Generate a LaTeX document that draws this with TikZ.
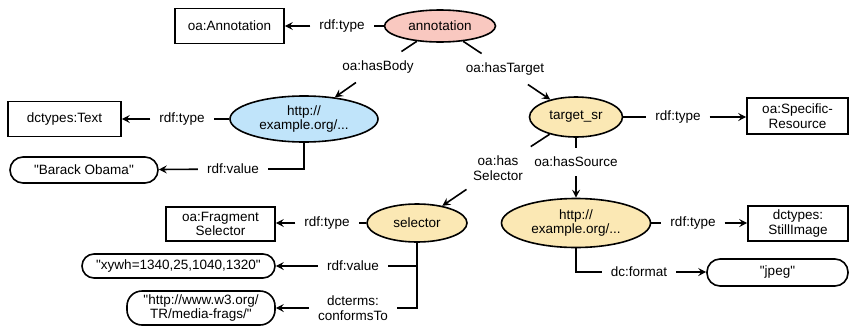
\documentclass[tikz,border=0pt]{standalone}
\usepackage{fontspec}
\setmainfont{Liberation Sans}[Ligatures=TeXOff]
\usetikzlibrary{shapes.geometric,arrows.meta}
\definecolor{annfill}{RGB}{249,200,192}
\definecolor{bodyfill}{RGB}{192,228,250}
\definecolor{tgtfill}{RGB}{251,232,180}
\begin{document}
\begin{tikzpicture}[x=1pt,y=-1pt,
  every node/.style={font=\fontsize{13.5}{14.5}\selectfont, align=center},
  cls/.style={draw, line width=1.6pt, rectangle, inner sep=0pt},
  lit/.style={draw, line width=1.6pt, rectangle, inner sep=0pt, rounded corners=12pt},
  res/.style={draw, line width=1.6pt, ellipse, inner sep=0pt},
  prop/.style={inner xsep=9pt, inner ysep=9pt},
  conn/.style={line width=1.6pt},
  arr/.style={conn, -{Stealth[length=8pt,width=8pt,inset=3pt]}}
]
\useasboundingbox (0,0) rectangle (851,327);

% resources
\node[res, fill=annfill, minimum width=111pt, minimum height=32pt] (ann) at (440,26) {annotation};
\node[res, fill=bodyfill, minimum width=148pt, minimum height=46pt] (body) at (304,119) {http://\\example.org/...};
\node[res, fill=tgtfill, minimum width=93pt, minimum height=40pt] (tsr) at (576,117) {target\_sr};
\node[res, fill=tgtfill, minimum width=100pt, minimum height=38pt] (sel) at (417,223) {selector};
\node[res, fill=tgtfill, minimum width=149pt, minimum height=49pt] (img) at (576,223) {http://\\example.org/...};

% classes
\node[cls, minimum width=109pt, minimum height=35pt] (oaAnn) at (229.5,26) {oa:Annotation};
\node[cls, minimum width=113pt, minimum height=35pt] (dctText) at (64.5,119) {dctypes:Text};
\node[cls, minimum width=101pt, minimum height=36pt] (specRes) at (797.5,116) {oa:Specific-\\Resource};
\node[cls, minimum width=109pt, minimum height=34pt] (fragSel) at (220.5,224) {oa:Fragment\\Selector};
\node[cls, minimum width=100pt, minimum height=35pt] (still) at (798,223.5) {dctypes:\\StillImage};

% literals
\node[lit, rounded corners=13pt, minimum width=148pt, minimum height=26pt] (obama) at (84,170) {"Barack Obama"};
\node[lit, minimum width=193pt, minimum height=24pt] (xywh) at (178.5,266) {"xywh=1340,25,1040,1320"};
\node[lit, rounded corners=15pt, minimum width=148pt, minimum height=34pt] (w3) at (201,308) {"http://www.w3.org/\\TR/media-frags/"};
\node[lit, rounded corners=13pt, minimum width=141pt, minimum height=27pt] (jpeg) at (777.5,272.5) {"jpeg"};

% property labels
\node[prop] (pAnnType) at (342,26) {rdf:type};
\node[prop] (pBody) at (378,67) {oa:hasBody};
\node[prop] (pTarget) at (505,69) {oa:hasTarget};
\node[prop] (pBodyType) at (182,119) {rdf:type};
\node[prop] (pBodyVal) at (233,169) {rdf:value};
\node[prop] (pTsrType) at (678,117) {rdf:type};
\node[prop] (pSel) at (498,168) {oa:has\\Selector};
\node[prop] (pSrc) at (576,162) {oa:hasSource};
\node[prop] (pSelType) at (327,223) {rdf:type};
\node[prop] (pSelVal) at (353,266) {rdf:value};
\node[prop] (pConf) at (353,308) {dcterms:\\conformsTo};
\node[prop] (pImgType) at (693,223) {rdf:type};
\node[prop] (pFmt) at (639,272) {dc:format};

% connectors
\draw[conn] (ann) -- (pAnnType);   \draw[arr] (pAnnType) -- (oaAnn);
\draw[conn] (ann) -- (pBody);      \draw[arr] (pBody) -- (body);
\draw[conn] (ann) -- (pTarget);    \draw[arr] (pTarget) -- (tsr);
\draw[conn] (body) -- (pBodyType); \draw[arr] (pBodyType) -- (dctText);
\draw[conn] (body.south) |- (pBodyVal.east); \draw[arr] (pBodyVal) -- (obama);
\draw[conn] (tsr) -- (pTsrType);   \draw[arr] (pTsrType) -- (specRes.west |- pTsrType);
\draw[conn] (tsr) -- (pSel);       \draw[arr] (pSel) -- (sel);
\draw[conn] (tsr) -- (pSrc);       \draw[arr] (pSrc) -- (img);
\draw[conn] (sel) -- (pSelType);   \draw[arr] (pSelType) -- (fragSel.east |- pSelType);
\draw[conn] (sel.south) |- (pSelVal.east); \draw[arr] (pSelVal) -- (xywh);
\draw[conn] (sel.south) |- (pConf.east);   \draw[arr] (pConf) -- (w3);
\draw[conn] (img) -- (pImgType);   \draw[arr] (pImgType) -- (still.west |- pImgType);
\draw[conn] (img.south) |- (pFmt.west);    \draw[arr] (pFmt) -- (jpeg.west |- pFmt);
\end{tikzpicture}
\end{document}
